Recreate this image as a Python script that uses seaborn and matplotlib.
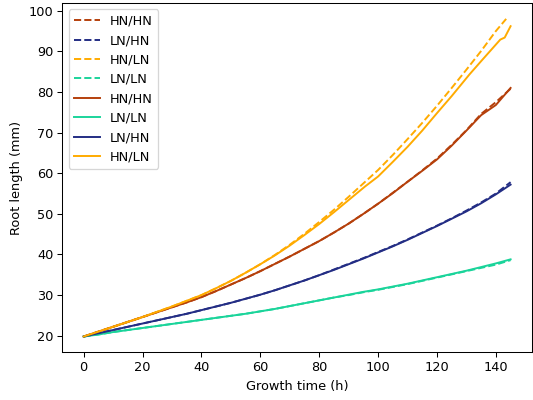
import numpy as np
import pandas as pd
import matplotlib
matplotlib.use("Agg")
import matplotlib.pyplot as plt
import seaborn as sns

# time grid (h)
time = [0, 5, 10, 15, 20, 25, 30, 35, 40, 45, 50, 55, 60, 65, 70, 75, 80, 85,
        90, 95, 100, 105, 110, 115, 120, 125, 130, 135, 140, 145]
time_hnln_dash = [0, 5, 10, 15, 20, 25, 30, 35, 40, 45, 50, 55, 60, 65, 70, 75, 80, 85,
                  90, 95, 100, 105, 110, 115, 120, 125, 130, 135, 140, 143.5]
time_hnln = [0, 5, 10, 15, 20, 25, 30, 35, 40, 45, 50, 55, 60, 65, 70, 75, 80, 85,
             90, 95.5, 100, 105, 110, 115, 120, 125, 131, 135, 141.5, 143, 145]

# dashed series
hnhn_dash = [19.8, 21.0, 22.2, 23.4, 24.6, 25.8, 27.0, 28.2, 29.5, 31.0, 32.6, 34.2, 35.9, 37.7,
             39.5, 41.4, 43.3, 45.4, 47.6, 50.0, 52.5, 55.2, 57.9, 60.7, 63.6, 67.0, 70.6, 74.6,
             77.5, 80.8]
lnhn_dash = [19.8, 20.6, 21.4, 22.2, 23.0, 23.8, 24.6, 25.4, 26.3, 27.2, 28.1, 29.1, 30.1, 31.2,
             32.4, 33.6, 34.9, 36.3, 37.7, 39.1, 40.6, 42.1, 43.7, 45.4, 47.1, 48.9, 50.8, 52.8,
             55.0, 57.8]
hnln_dash = [19.8, 21.0, 22.2, 23.4, 24.6, 25.9, 27.2, 28.6, 30.0, 31.7, 33.5, 35.5, 37.6, 39.9,
             42.4, 45.1, 48.0, 51.0, 54.2, 57.5, 60.8, 64.5, 68.4, 72.4, 76.6, 81.0, 85.5, 90.1,
             95.0, 98.0]
lnln_dash = [19.8, 20.3, 20.9, 21.4, 21.9, 22.4, 22.9, 23.4, 23.9, 24.4, 24.9, 25.4, 26.0, 26.6,
             27.3, 28.0, 28.7, 29.4, 30.0, 30.7, 31.3, 32.0, 32.7, 33.5, 34.3, 35.1, 35.9, 36.7,
             37.5, 38.6]

# solid series
hnhn = [19.8, 21.0, 22.2, 23.4, 24.6, 25.8, 27.0, 28.2, 29.5, 31.0, 32.6, 34.2, 35.9, 37.7,
        39.5, 41.4, 43.3, 45.4, 47.6, 50.0, 52.5, 55.1, 57.9, 60.6, 63.4, 66.8, 70.5, 74.3,
        76.8, 81.0]
lnln = [19.8, 20.3, 20.9, 21.4, 21.9, 22.4, 22.9, 23.4, 23.9, 24.4, 24.9, 25.4, 26.0, 26.6,
        27.3, 28.0, 28.7, 29.4, 30.1, 30.8, 31.4, 32.1, 32.8, 33.6, 34.4, 35.2, 36.0, 36.9,
        37.8, 38.8]
lnhn = [19.8, 20.6, 21.4, 22.2, 23.0, 23.8, 24.6, 25.4, 26.3, 27.2, 28.1, 29.1, 30.1, 31.2,
        32.4, 33.6, 34.9, 36.2, 37.6, 39.0, 40.5, 42.0, 43.6, 45.3, 47.0, 48.8, 50.6, 52.6,
        54.8, 57.2]
hnln = [19.8, 21.0, 22.2, 23.4, 24.6, 25.9, 27.2, 28.6, 30.0, 31.7, 33.5, 35.5, 37.6, 39.8,
        42.2, 44.8, 47.5, 50.4, 53.4, 56.7, 59.2, 62.8, 66.5, 70.5, 74.8, 79.0, 84.3, 87.6,
        92.9, 93.4, 96.2]

C_HNHN = "#b5400b"
C_LNHN = "#232d84"
C_HNLN = "#ffab00"
C_LNLN = "#1ad49a"

series = [
    ("HN/HN", time, hnhn_dash, C_HNHN, "--"),
    ("LN/HN", time, lnhn_dash, C_LNHN, "--"),
    ("HN/LN", time_hnln_dash, hnln_dash, C_HNLN, "--"),
    ("LN/LN", time, lnln_dash, C_LNLN, "--"),
    ("HN/HN", time, hnhn, C_HNHN, "-"),
    ("LN/LN", time, lnln, C_LNLN, "-"),
    ("LN/HN", time, lnhn, C_LNHN, "-"),
    ("HN/LN", time_hnln, hnln, C_HNLN, "-"),
]

DPI = 93
fig = plt.figure(figsize=(533 / DPI, 400 / DPI), dpi=DPI)
ax = fig.add_subplot(111)
fig.subplots_adjust(left=0.117, right=0.998, bottom=0.119, top=0.9925)

for label, t, vals, color, ls in series:
    df = pd.DataFrame({"t": t, "v": vals})
    sns.lineplot(data=df, x="t", y="v", ax=ax, color=color, linestyle=ls,
                 linewidth=1.5, label=label)

ax.set_xlabel("Growth time (h)")
ax.set_ylabel("Root length (mm)")
ax.set_xticks([0, 20, 40, 60, 80, 100, 120, 140])
ax.set_yticks([20, 30, 40, 50, 60, 70, 80, 90, 100])
ax.legend(loc="upper left")

fig.savefig("out.png", dpi=DPI)
